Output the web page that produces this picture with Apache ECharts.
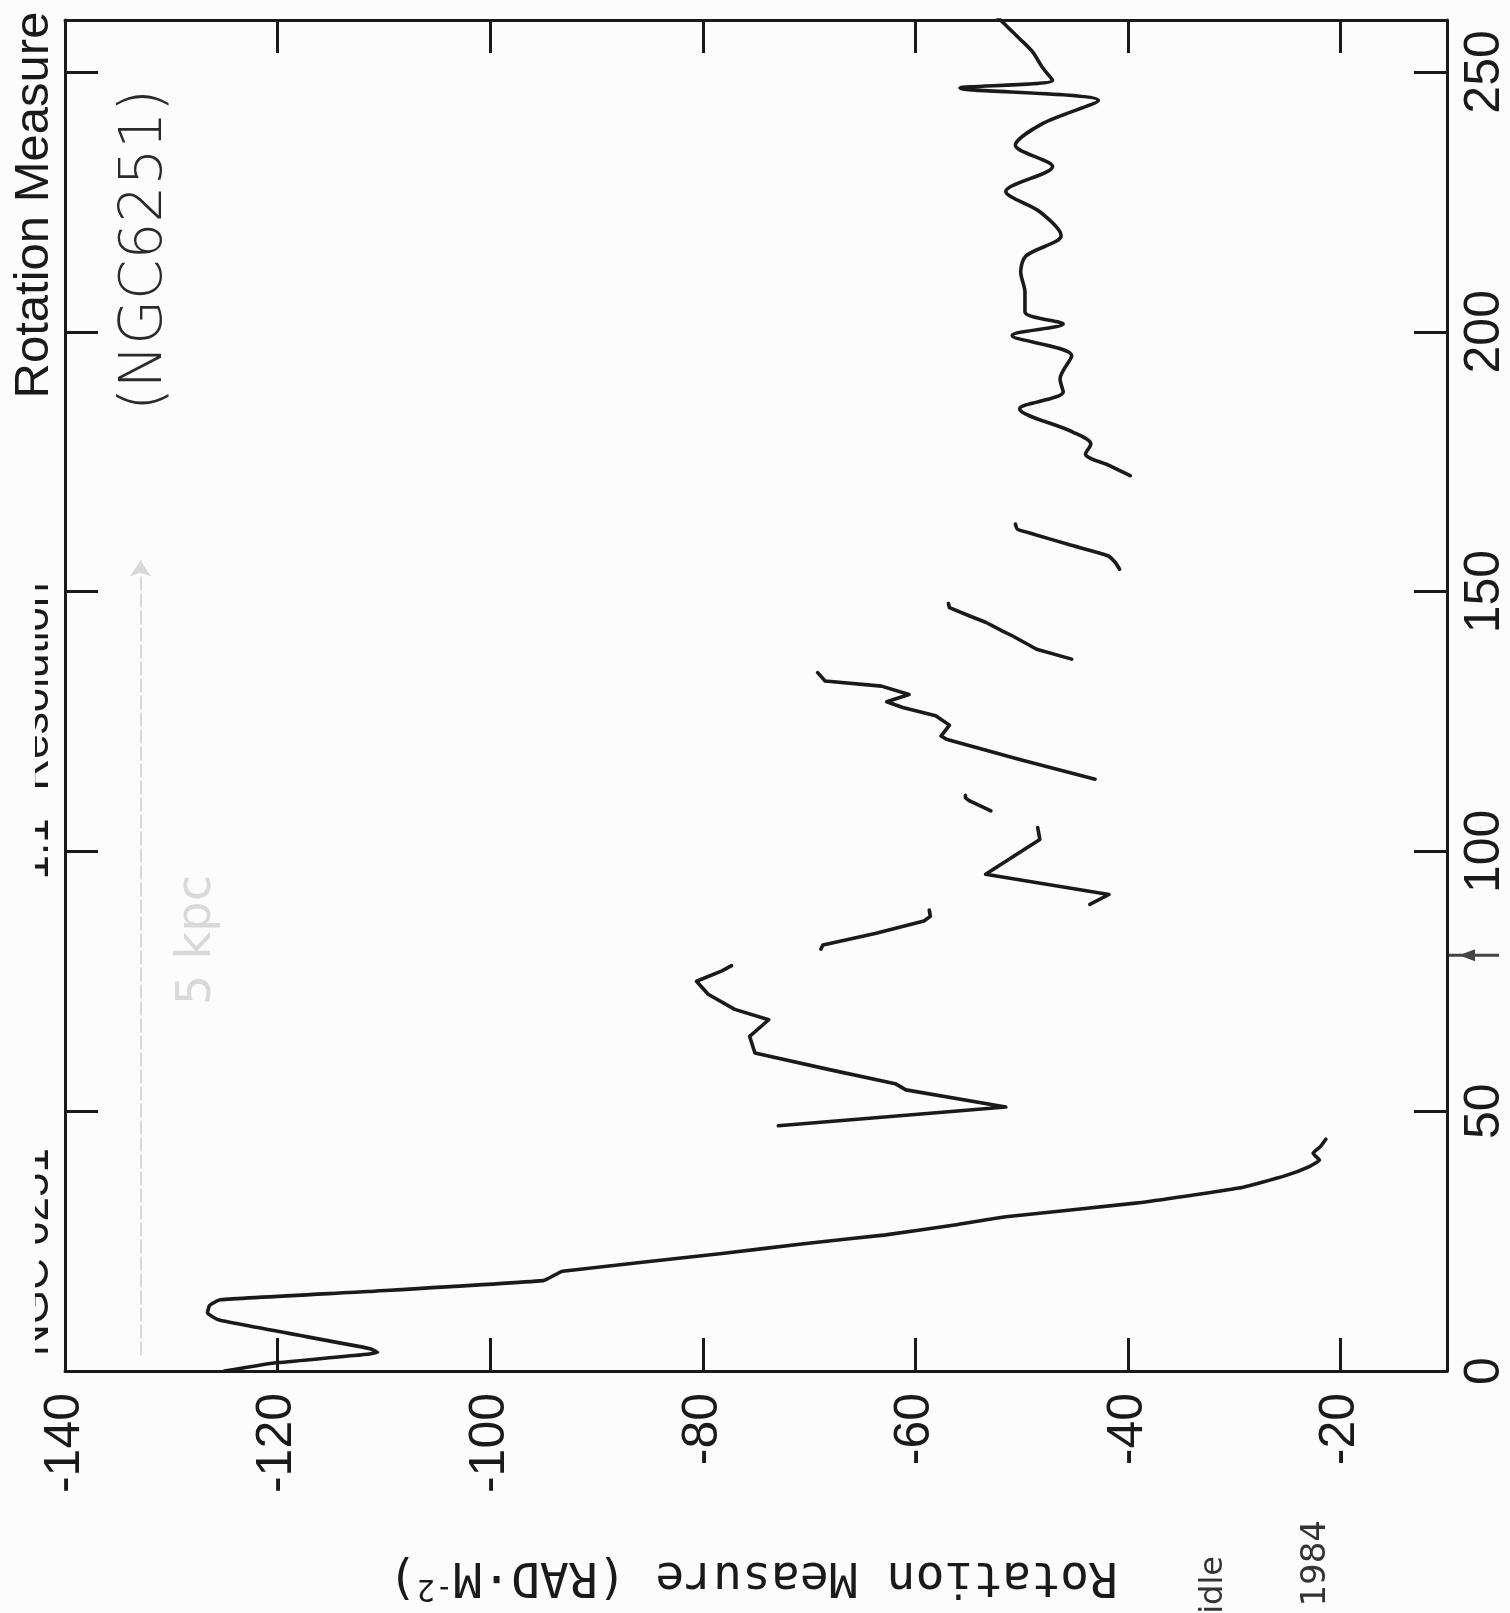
<!DOCTYPE html>
<html><head><meta charset="utf-8">
<script src="https://cdn.jsdelivr.net/npm/echarts@6/dist/echarts.min.js"></script>
<style>html,body{margin:0;padding:0;background:#fcfcfc}#c{width:1510px;height:1613px}</style>
</head><body><div id="c"></div>
<script>
// Rotation measure (rad m^-2) along the jet vs distance; each segment is [distance, RM]
const seg1 = [[0,-125],[1.5,-120.5],[3.6,-110.6],[4.3,-111.3],[9.8,-125.5],[11.2,-126.6],[12.6,-126.4],[13.7,-125.4],[15.3,-111.5],[17.4,-95.0],[18.4,-94.0],[19.2,-93.2],[22.6,-78.2],[24.5,-70.5],[26.2,-62.8],[28.2,-56.0],[29.7,-51.5],[32.3,-39.3],[35.2,-29.6],[37.6,-25.2],[39.4,-22.9],[40.6,-22.0],[41.9,-22.6],[43.2,-21.9],[44.6,-21.4]];
const seg2 = [[47.2,-72.9],[50.8,-51.5],[54.1,-60.9],[55.3,-61.9],[58.0,-68.1],[61.2,-75.1],[64.4,-75.6],[67.6,-73.8],[69.6,-77.0],[72.5,-79.5],[75.0,-80.6],[77.0,-78.2],[78.0,-77.3]];
const seg3 = [[81.2,-68.9],[82.0,-68.7],[84.2,-63.8],[86.6,-59.2],[87.5,-58.6],[88.7,-58.7]];
const seg4 = [[89.8,-43.6],[91.7,-41.8],[95.6,-53.4],[102.3,-48.3],[104.6,-48.5]];
const seg5 = [[107.8,-52.9],[109.7,-54.9],[110.3,-55.3],[110.8,-55.3]];
const seg6 = [[113.9,-43.1],[117.7,-50.2],[121.6,-57.1],[122.2,-57.6],[124.3,-56.8],[126.1,-58.1],[127.7,-61.2],[128.8,-62.7],[130.2,-60.6],[131.8,-63.2],[132.8,-68.5],[134.4,-69.2]];
const seg7 = [[137.0,-45.3],[138.9,-48.6],[141.5,-50.9],[142.4,-51.8],[144.1,-53.4],[145.3,-54.9],[146.9,-56.8],[147.7,-56.9]];
const seg8 = [[154.3,-40.8],[155.6,-41.2],[156.9,-41.9],[159.0,-45.5],[161.0,-48.8],[162.0,-50.4],[163.0,-50.6]];
const seg9 = [[172.3,-39.8],[174.2,-41.7],[176.5,-44.0],[178.4,-43.5],[180.7,-45.2],[185.2,-50.2],[188.4,-46.1],[190.9,-46.4],[195.4,-45.3],[199.3,-50.9],[201.5,-46.1],[203.8,-49.7],[207.6,-49.7],[211.5,-50.1],[214.6,-49.6],[218.5,-46.3],[223.1,-48.3],[227.0,-51.5],[231.8,-47.1],[235.9,-50.6],[240.1,-48.0],[244.5,-42.8],[246.9,-55.8],[248.4,-47.1],[250.7,-48.0],[253.9,-49.0],[256.4,-50.2],[259.0,-51.5],[261.0,-52.5]];
const segments = [seg1, seg2, seg3, seg4, seg5, seg6, seg7, seg8, seg9];
const segSmooth = [0.15, 0, 0, 0, 0, 0, 0, 0.2, 0.3];

// axes
const rmMin = -140, rmMax = -10, rmStep = 20;
const distMin = 0, distMax = 260, distStep = 50;
const markerDist = 80;             // arrow mark under the distance axis
const pencilArrow = [[-132.9, 3], [-132.9, 156]];   // faint pencil arrow [RM, dist]

const ink = '#1a1a1a';
const chart = echarts.init(document.getElementById('c'), null, {renderer: 'canvas'});

function stepLabel(step) {
  return v => (Math.abs(v / step - Math.round(v / step)) < 1e-6) ? String(v) : '';
}
const axisLineS = {show: true, onZero: false, lineStyle: {color: ink, width: 3}};
const tickS = {show: true, inside: true, length: 33, lineStyle: {color: ink, width: 3}};
const lblFont = {fontSize: 50, fontFamily: 'Liberation Sans, Arial, sans-serif', color: ink};

const option = {
  backgroundColor: '#fcfcfc',
  animation: false,
  grid: {left: 65, right: 63, top: 20, bottom: 242, containLabel: false, outerBoundsMode: 'none'},
  xAxis: [
    {type: 'value', position: 'bottom', min: rmMin, max: rmMax, interval: rmStep,
     axisLine: axisLineS, axisTick: tickS, splitLine: {show: false},
     axisLabel: Object.assign({rotate: 90, margin: 22, showMaxLabel: false, formatter: stepLabel(rmStep)}, lblFont)},
    {type: 'value', position: 'top', min: rmMin, max: rmMax, interval: rmStep,
     axisLine: axisLineS, axisTick: tickS, splitLine: {show: false}, axisLabel: {show: false}}
  ],
  yAxis: [
    {type: 'value', position: 'right', min: distMin, max: distMax, interval: distStep,
     axisLine: axisLineS, axisTick: tickS, splitLine: {show: false},
     axisLabel: Object.assign({rotate: 90, margin: 13, showMaxLabel: false, formatter: stepLabel(distStep)}, lblFont)},
    {type: 'value', position: 'left', min: distMin, max: distMax, interval: distStep,
     axisLine: axisLineS, axisTick: tickS, splitLine: {show: false}, axisLabel: {show: false}}
  ],
  series: segments.map((seg, i) => ({
    type: 'line', xAxisIndex: 0, yAxisIndex: 0, symbol: 'none', silent: true, clip: true,
    smooth: segSmooth[i],
    data: seg.map(p => [p[1], p[0]]),
    lineStyle: {color: ink, width: 3.6, join: 'round', cap: 'round'}
  })).concat([{
    type: 'lines', coordinateSystem: 'cartesian2d', xAxisIndex: 0, yAxisIndex: 0, silent: true,
    symbol: ['none', 'arrow'], symbolSize: 16,
    lineStyle: {color: '#d8d8d8', width: 2, opacity: 1, type: [14, 3]},
    data: [{coords: pencilArrow}]
  }])
};
chart.setOption(option);

const yMark = chart.convertToPixel({yAxisIndex: 0}, markerDist);
const xRight = chart.convertToPixel({xAxisIndex: 0}, rmMax);

chart.setOption({graphic: [
  // axis title (page is turned: upside down)
  {type: 'text', x: 753, y: 1575, rotation: Math.PI, silent: true,
   style: {text: '{a|Rotation Measure (RAD·M}{s|-2}{a|)}', align: 'center', verticalAlign: 'middle',
     rich: {a: {fontSize: 48, fontFamily: 'DejaVu Sans Mono', fill: ink, color: ink, lineHeight: 56},
            s: {fontSize: 30, fontFamily: 'DejaVu Sans Mono', fill: ink, color: ink, verticalAlign: 'top', lineHeight: 56}}}},
  // title pieces on the left edge
  {type: 'text', x: 34, y: 205, rotation: Math.PI / 2, silent: true,
   style: {text: 'Rotation Measure', fontSize: 49, fontFamily: 'Liberation Sans', fill: ink, align: 'center', verticalAlign: 'middle'}},
  {type: 'text', x: 36, y: 731, rotation: Math.PI / 2, silent: true, z: 1,
   style: {text: '1.1" Resolution', fontSize: 44, fontFamily: 'Liberation Sans', fill: ink, align: 'center', verticalAlign: 'middle'}},
  {type: 'text', x: 36, y: 1252, rotation: Math.PI / 2, silent: true, z: 1,
   style: {text: 'NGC 6251', fontSize: 44, fontFamily: 'Liberation Sans', fill: ink, align: 'center', verticalAlign: 'middle'}},
  {type: 'rect', shape: {x: 0, y: 560, width: 35, height: 340}, style: {fill: '#fcfcfc'}, z: 2, silent: true},
  {type: 'rect', shape: {x: 0, y: 1140, width: 35, height: 215}, style: {fill: '#fcfcfc'}, z: 2, silent: true},
  // handwritten notes
  {type: 'text', x: 146, y: 250, rotation: Math.PI / 2, silent: true,
   style: {text: '(NGC6251)', fontSize: 58, fontWeight: 200, fontFamily: 'DejaVu Sans', fill: '#2a2a2a', align: 'center', verticalAlign: 'middle'}},
  {type: 'text', x: 198, y: 940, rotation: Math.PI / 2, silent: true,
   style: {text: '5 kpc', fontSize: 48, fontFamily: 'DejaVu Sans', fill: '#d9d9d9', align: 'center', verticalAlign: 'middle'}},
  {type: 'text', x: 1214, y: 1556, rotation: Math.PI / 2, silent: true,
   style: {text: 'Perley, Bridle', fontSize: 32, fontFamily: 'DejaVu Sans', fill: '#333', align: 'right', verticalAlign: 'middle'}},
  {type: 'text', x: 1316, y: 1520, rotation: Math.PI / 2, silent: true,
   style: {text: '& Willis, 1984', fontSize: 34, fontFamily: 'DejaVu Sans', fill: '#333', align: 'right', verticalAlign: 'middle'}},
  // arrow mark below the distance axis
  {type: 'line', silent: true, shape: {x1: xRight, y1: yMark, x2: xRight + 52, y2: yMark}, style: {stroke: '#444', lineWidth: 3}},
  {type: 'polygon', silent: true, shape: {points: [[xRight + 12, yMark], [xRight + 28, yMark - 6], [xRight + 28, yMark + 6]]}, style: {fill: '#444'}}
]});
</script>
</body></html>
